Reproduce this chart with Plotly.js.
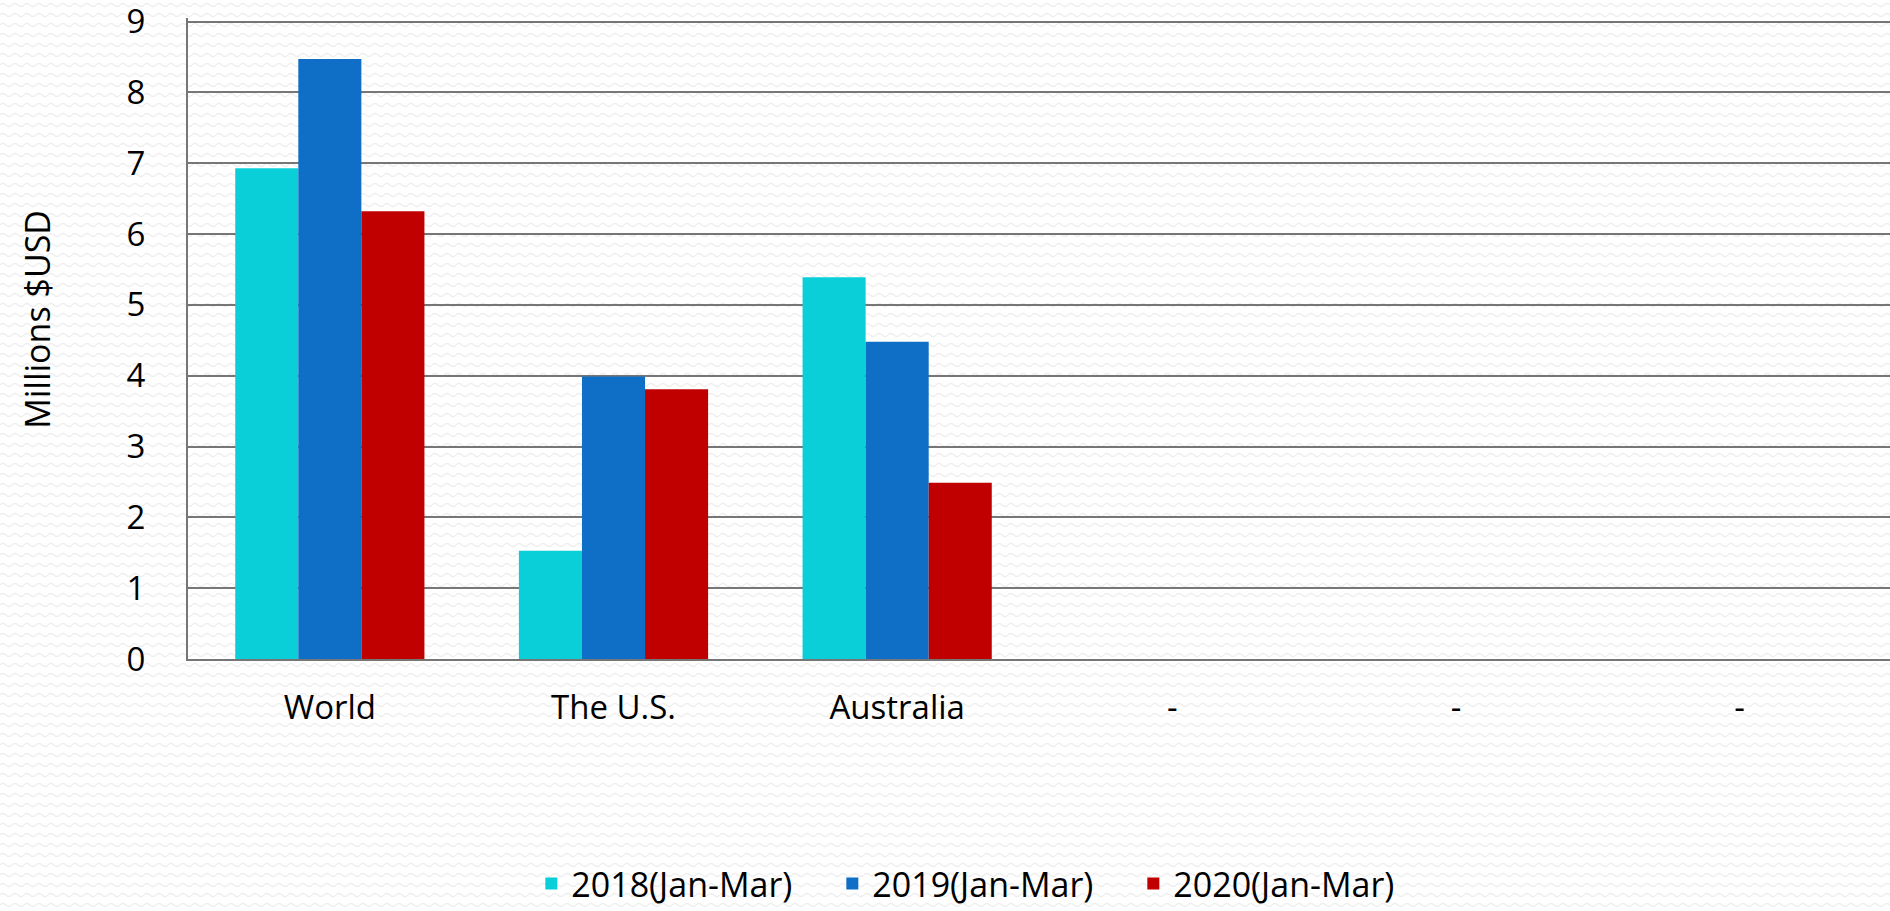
<!DOCTYPE html>
<html>
<head>
<meta charset="utf-8">
<script src="https://cdn.plot.ly/plotly-3.0.1.min.js"></script>
<style>
  html, body { margin: 0; padding: 0; }
  body {
    width: 1890px; height: 911px; overflow: hidden;
    background-color: #ffffff;
    background-image: url("data:image/svg+xml;utf8,<svg xmlns='http://www.w3.org/2000/svg' width='12' height='10'><path d='M0 5 Q3 2 6 5 T12 5' fill='none' stroke='%23eeeeee' stroke-width='1.4'/></svg>");
  }
  #chart { width: 1890px; height: 911px; }
</style>
</head>
<body>
<div id="chart"></div>
<script>
const categories = ["World", "The U.S.", "Australia", "-\u00a0\u00a0", "-\u00a0\u00a0", "-\u00a0\u00a0"];
const seriesNames = ["2018(Jan-Mar)", "2019(Jan-Mar)", "2020(Jan-Mar)"];
const values2018 = [6.93, 1.53, 5.39, null, null, null];
const values2019 = [8.47, 3.99, 4.48, null, null, null];
const values2020 = [6.32, 3.81, 2.49, null, null, null];
const yTicks = [0, 1, 2, 3, 4, 5, 6, 7, 8, 9];
const yTitle = "Millions $USD";

const colors = ["#0bcfd8", "#0f6fc6", "#c00000"];
const xIdx = categories.map((_, i) => i);
const allValues = [values2018, values2019, values2020];

const traces = allValues.map((vals, k) => ({
  type: "bar",
  name: seriesNames[k],
  x: xIdx,
  y: vals,
  marker: { color: colors[k], line: { width: 0 } },
  hoverinfo: "y+name"
}));

const family = "Open Sans, Noto Sans, sans-serif";
const tickFont = { family: family, size: 33, color: "#000000" };

const layout = {
  width: 1890,
  height: 911,
  margin: { l: 188, r: 0, t: 18.46, b: 252, autoexpand: false },
  paper_bgcolor: "rgba(0,0,0,0)",
  plot_bgcolor: "rgba(0,0,0,0)",
  font: tickFont,
  barmode: "group",
  bargap: 0.333,
  bargroupgap: 0,
  showlegend: true,
  legend: {
    orientation: "h",
    x: 0.467,
    xanchor: "center",
    y: -0.351,
    yanchor: "middle",
    font: { family: family, size: 34, color: "#000000" },
    itemwidth: 30,
    entrywidth: 256,
    bgcolor: "rgba(0,0,0,0)"
  },
  xaxis: {
    type: "linear",
    range: [-0.5, categories.length - 0.5],
    tickmode: "array",
    tickvals: xIdx,
    ticktext: categories,
    showgrid: false,
    zeroline: false,
    showline: true,
    linecolor: "#767676",
    linewidth: 2,
    ticks: "",
    ticklabelstandoff: 18,
    ticklabeloverflow: "allow",
    tickfont: tickFont,
    fixedrange: true
  },
  yaxis: {
    range: [0, 9.05],
    tickmode: "array",
    tickvals: yTicks,
    ticktext: yTicks.map(String),
    showgrid: true,
    gridcolor: "#767676",
    gridwidth: 2,
    zeroline: false,
    showline: true,
    linecolor: "#767676",
    linewidth: 2,
    ticks: "",
    ticklabelstandoff: 34,
    ticklabeloverflow: "allow",
    tickfont: tickFont,
    fixedrange: true
  },
  annotations: [{
    text: yTitle,
    textangle: -90,
    xref: "paper", yref: "paper",
    x: -0.0884, y: 0.53,
    xanchor: "center", yanchor: "middle",
    showarrow: false,
    font: { family: family, size: 34, color: "#000000" }
  }]
};

Plotly.newPlot("chart", traces, layout, { displayModeBar: false, staticPlot: true });
</script>
</body>
</html>
